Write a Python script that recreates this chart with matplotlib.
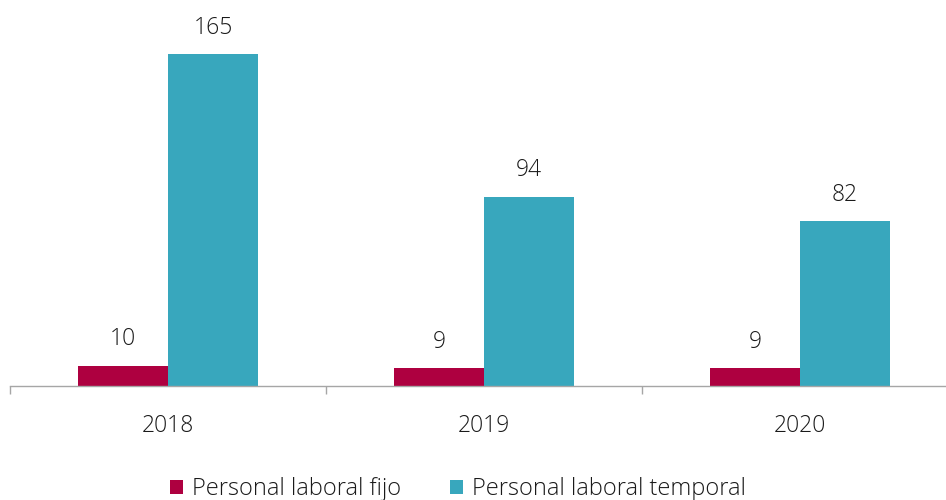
import matplotlib
matplotlib.use("Agg")
import matplotlib.pyplot as plt
import numpy as np
from matplotlib.ticker import FixedLocator

years = ["2018", "2019", "2020"]
fijo = [10, 9, 9]
temporal = [165, 94, 82]
series_names = ["Personal laboral fijo", "Personal laboral temporal"]
colors = ["#AE0040", "#38A7BD"]

plt.rcParams['font.family'] = ['Open Sans', 'DejaVu Sans']
plt.rcParams['font.weight'] = 'light'

fig = plt.figure(figsize=(9.46, 5.0), dpi=100)
W, H = 946, 500
left_px, right_px = 10, 958
bottom_px = 386
ymax = 180
px_per_unit = 332 / 165
top_px = bottom_px - ymax * px_per_unit
ax = fig.add_axes([left_px / W, 1 - bottom_px / H, (right_px - left_px) / W, (bottom_px - top_px) / H])

x = np.arange(len(years))
bw = 90 / 316
b1 = ax.bar(x - bw / 2, fijo, bw, color=colors[0], label=series_names[0])
b2 = ax.bar(x + bw / 2, temporal, bw, color=colors[1], label=series_names[1])

for bars, vals in ((b1, fijo), (b2, temporal)):
    for r, v in zip(bars, vals):
        ax.annotate(str(v), (r.get_x() + r.get_width() / 2, v), xytext=(0, 19),
                    textcoords="offset points", ha="center", va="center",
                    fontsize=16.5, color="#1a1a1a", fontweight='light')

ax.set_xlim(-0.5, 2.5)
ax.set_ylim(0, ymax)
for s in ["top", "right", "left"]:
    ax.spines[s].set_visible(False)
ax.spines["bottom"].set_color("#A6A6A6")
ax.spines["bottom"].set_linewidth(1.0)
ax.set_yticks([])
ax.set_xticks(x)
ax.set_xticklabels(years, fontsize=16.5, color="#1a1a1a", fontweight='light')
ax.tick_params(axis="x", which="major", length=0, pad=20)
ax.xaxis.set_minor_locator(FixedLocator([-0.5, 0.5, 1.5, 2.5]))
ax.tick_params(axis="x", which="minor", length=6, color="#A6A6A6", width=1.0, direction="out")

leg = fig.legend(handles=[b1, b2], labels=series_names, loc="center", bbox_to_anchor=(458 / W, 1 - 489 / H),
                 ncol=2, frameon=False, fontsize=17, handlelength=0.55, handleheight=0.55,
                 handletextpad=0.35, columnspacing=2.1, borderaxespad=0, borderpad=0)
for t in leg.get_texts():
    t.set_color("#1a1a1a")
    t.set_fontweight('light')

fig.savefig("out.png", dpi=100)
